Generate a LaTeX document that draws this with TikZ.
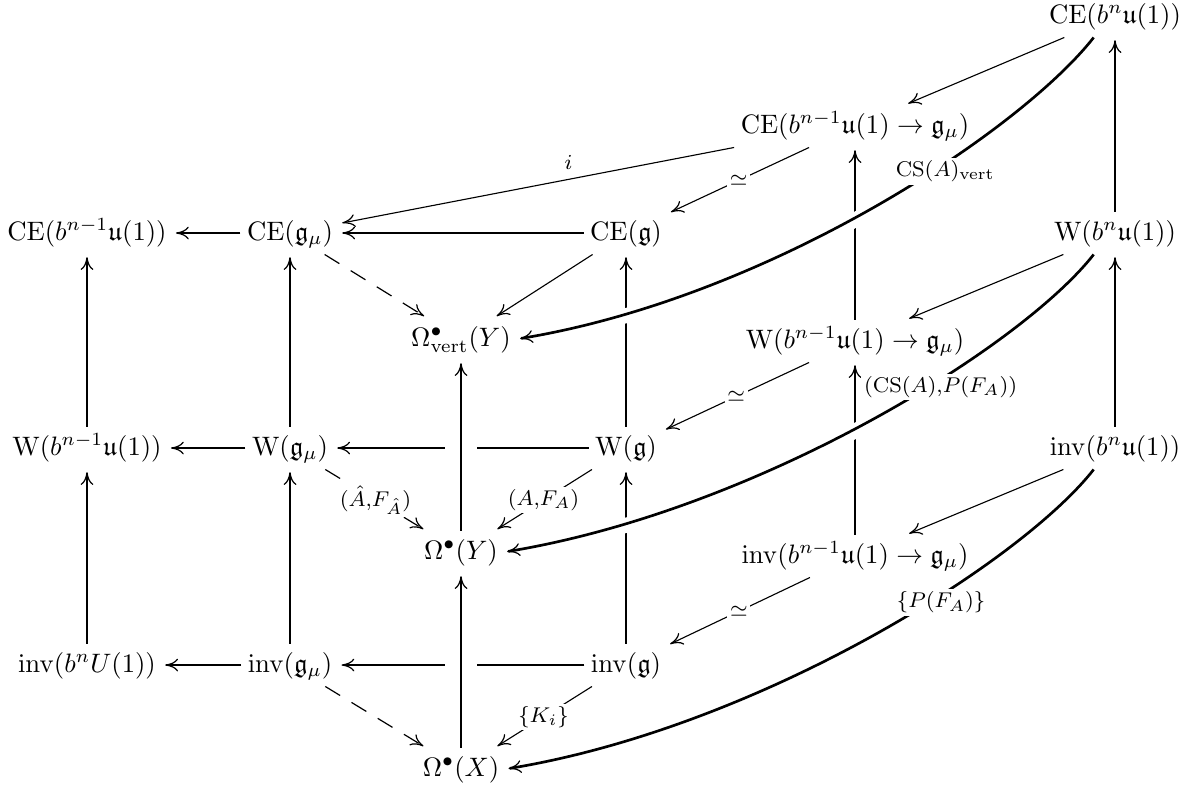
\documentclass[tikz,border=0pt]{standalone}
\usepackage{amsmath,amssymb}
\usetikzlibrary{arrows.meta}
\tikzset{
  obj/.style={inner sep=2.5pt, outer sep=0pt, text height=8.3pt, text depth=2.8pt},
  cmtip/.tip={Computer Modern Rightarrow[length=4.8pt,width=4.8pt,line width=0.45pt]},
  ar/.style={-cmtip, shorten >=1pt},
  thk/.style={line width=1.1pt},
  med/.style={line width=0.8pt},
  thn/.style={line width=0.42pt},
  dsh/.style={line width=0.45pt, dash pattern=on 6.5pt off 5pt},
  lab/.style={fill=white, inner sep=1pt, font=\footnotesize},
  clab/.style={lab, pos=0.4, xshift=4.5pt},
  crv/.style={line width=1pt, -cmtip, shorten >=1pt,
    preaction={draw=white, line width=5.6pt, -, shorten <=8pt, shorten >=8pt}},
  gapv/.style={preaction={draw=white, line width=12pt, -, shorten <=4pt, shorten >=6pt}}
}
\begin{document}
\begin{tikzpicture}[x=0.375pt,y=-0.375pt]
\useasboundingbox (0,0) rectangle (1182,791);
% nodes
\node[obj] (ceb)   at (1115,16)  {$\mathrm{CE}(b^n\mathfrak{u}(1))$};
\node[obj] (cebg)  at (855,126)  {$\mathrm{CE}(b^{n-1}\mathfrak{u}(1)\to\mathfrak{g}_\mu)$};
\node[obj] (ceb1)  at (87,233)   {$\mathrm{CE}(b^{n-1}\mathfrak{u}(1))$};
\node[obj] (cegm)  at (290,233)  {$\mathrm{CE}(\mathfrak{g}_\mu)$};
\node[obj] (ceg)   at (626,233)  {$\mathrm{CE}(\mathfrak{g})$};
\node[obj] (wb)    at (1115,233) {$\mathrm{W}(b^n\mathfrak{u}(1))$};
\node[obj] (omv)   at (461,339)  {$\Omega^\bullet_{\mathrm{vert}}(Y)$};
\node[obj] (wbg)   at (855,341)  {$\mathrm{W}(b^{n-1}\mathfrak{u}(1)\to\mathfrak{g}_\mu)$};
\node[obj] (wb1)   at (87,448)   {$\mathrm{W}(b^{n-1}\mathfrak{u}(1))$};
\node[obj] (wgm)   at (290,448)  {$\mathrm{W}(\mathfrak{g}_\mu)$};
\node[obj] (wg)    at (626,448)  {$\mathrm{W}(\mathfrak{g})$};
\node[obj] (invb)  at (1115,448) {$\mathrm{inv}(b^n\mathfrak{u}(1))$};
\node[obj] (omy)   at (461,552)  {$\Omega^\bullet(Y)$};
\node[obj] (invbg) at (855,556)  {$\mathrm{inv}(b^{n-1}\mathfrak{u}(1)\to\mathfrak{g}_\mu)$};
\node[obj] (invU)  at (87,665)   {$\mathrm{inv}(b^nU(1))$};
\node[obj] (invgm) at (290,665)  {$\mathrm{inv}(\mathfrak{g}_\mu)$};
\node[obj] (invg)  at (626,665)  {$\mathrm{inv}(\mathfrak{g})$};
\node[obj] (omx)   at (461,769)  {$\Omega^\bullet(X)$};
% verticals
\draw[thk,ar] (wb1) -- (ceb1);
\draw[thk,ar] (invU) -- (wb1);
\draw[thk,ar] (wgm) -- (cegm);
\draw[thk,ar] (invgm) -- (wgm);
\draw[thk,ar] (wg) -- (ceg);
\draw[thk,ar] (invg) -- (wg);
\draw[thk,ar] (wbg) -- (cebg);
\draw[thk,ar] (invbg) -- (wbg);
\draw[med,ar] (wb) -- (ceb);
\draw[med,ar] (invb) -- (wb);
% horizontals
\draw[thk,ar] (cegm) -- (ceb1);
\draw[thk,ar] (ceg) -- (cegm);
\draw[thk,ar] (wgm) -- (wb1);
\draw[thk,ar] (wg) -- (wgm);
\draw[thk,ar] (invgm) -- (invU);
\draw[thk,ar] (invg) -- (invgm);
% curves
\draw[crv] ([xshift=-8pt]ceb.south) .. controls +(-72,92) and +(255,-42) .. (omv.east)
  node[clab]{$\mathrm{CS}(A)_{\mathrm{vert}}$};
\draw[crv] ([xshift=-8pt]wb.south) .. controls +(-72,92) and +(255,-42) .. (omy.east)
  node[clab]{$(\mathrm{CS}(A){,}P(F_A))$};
\draw[crv] ([xshift=-8pt]invb.south) .. controls +(-72,92) and +(255,-42) .. (omx.east)
  node[clab]{$\{P(F_A)\}$};
% Omega column
\draw[med,ar,gapv] (omy) -- (omv);
\draw[med,ar,gapv] (omx) -- (omy);
% diagonals
\draw[thn,ar] (ceb) -- (cebg);
\draw[thn,ar] (wb) -- (wbg);
\draw[thn,ar] (invb) -- (invbg);
\draw[thn,ar] (cebg) -- node[lab]{$\simeq$} (ceg);
\draw[thn,ar] (wbg) -- node[lab]{$\simeq$} (wg);
\draw[thn,ar] (invbg) -- node[lab]{$\simeq$} (invg);
\draw[thn,ar] (cebg.south west) -- node[pos=0.42,above,font=\footnotesize]{$i$} (cegm);
\draw[thn,ar] (ceg) -- (omv);
\draw[thn,ar] (wg) -- node[lab]{$(A{,}F_A)$} (omy);
\draw[thn,ar] (invg) -- node[lab]{$\{K_i\}$} (omx);
\draw[dsh,ar] (cegm) -- (omv);
\draw[dsh,ar] (wgm) -- node[lab]{$(\hat A{,}F_{\hat A})$} (omy);
\draw[dsh,ar] (invgm) -- (omx);
\end{tikzpicture}
\end{document}
